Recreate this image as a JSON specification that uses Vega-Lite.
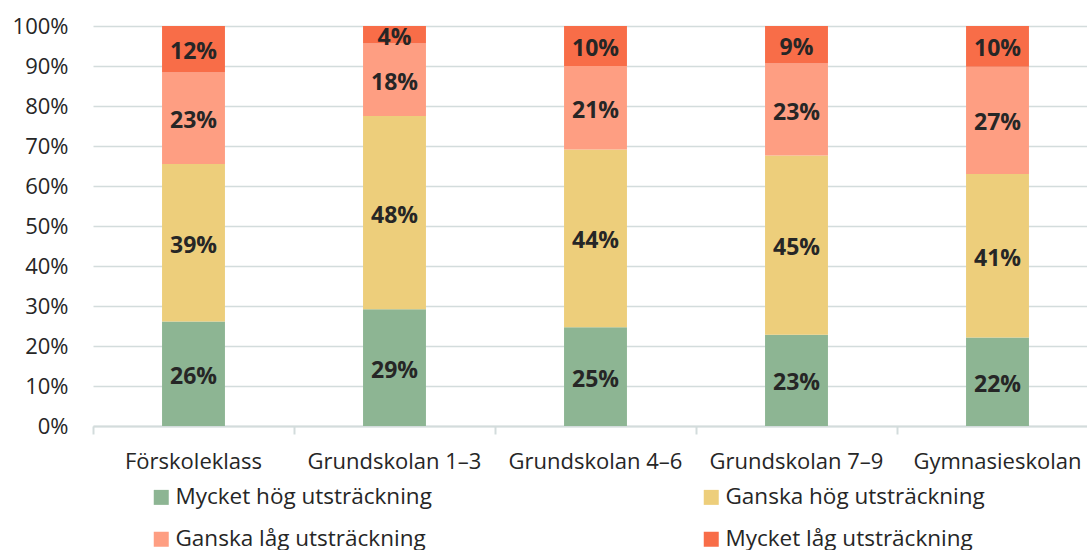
{
  "$schema": "https://vega.github.io/schema/vega-lite/v6.json",
  "autosize": {"type": "none"},
  "width": 1005,
  "height": 400,
  "padding": {"left": 93, "top": 26, "right": 0, "bottom": 124},
  "background": "white",
  "config": {
    "view": {"stroke": null},
    "font": "Open Sans"
  },
  "data": {
    "values": [
      {"skolform": "Förskoleklass", "svar": "Mycket hög utsträckning", "k": 1, "andel": 0.261},
      {"skolform": "Förskoleklass", "svar": "Ganska hög utsträckning", "k": 2, "andel": 0.394},
      {"skolform": "Förskoleklass", "svar": "Ganska låg utsträckning", "k": 3, "andel": 0.229},
      {"skolform": "Förskoleklass", "svar": "Mycket låg utsträckning", "k": 4, "andel": 0.116},
      {"skolform": "Grundskolan 1–3", "svar": "Mycket hög utsträckning", "k": 1, "andel": 0.292},
      {"skolform": "Grundskolan 1–3", "svar": "Ganska hög utsträckning", "k": 2, "andel": 0.483},
      {"skolform": "Grundskolan 1–3", "svar": "Ganska låg utsträckning", "k": 3, "andel": 0.181},
      {"skolform": "Grundskolan 1–3", "svar": "Mycket låg utsträckning", "k": 4, "andel": 0.044},
      {"skolform": "Grundskolan 4–6", "svar": "Mycket hög utsträckning", "k": 1, "andel": 0.247},
      {"skolform": "Grundskolan 4–6", "svar": "Ganska hög utsträckning", "k": 2, "andel": 0.444},
      {"skolform": "Grundskolan 4–6", "svar": "Ganska låg utsträckning", "k": 3, "andel": 0.209},
      {"skolform": "Grundskolan 4–6", "svar": "Mycket låg utsträckning", "k": 4, "andel": 0.100},
      {"skolform": "Grundskolan 7–9", "svar": "Mycket hög utsträckning", "k": 1, "andel": 0.228},
      {"skolform": "Grundskolan 7–9", "svar": "Ganska hög utsträckning", "k": 2, "andel": 0.448},
      {"skolform": "Grundskolan 7–9", "svar": "Ganska låg utsträckning", "k": 3, "andel": 0.230},
      {"skolform": "Grundskolan 7–9", "svar": "Mycket låg utsträckning", "k": 4, "andel": 0.094},
      {"skolform": "Gymnasieskolan", "svar": "Mycket hög utsträckning", "k": 1, "andel": 0.221},
      {"skolform": "Gymnasieskolan", "svar": "Ganska hög utsträckning", "k": 2, "andel": 0.409},
      {"skolform": "Gymnasieskolan", "svar": "Ganska låg utsträckning", "k": 3, "andel": 0.268},
      {"skolform": "Gymnasieskolan", "svar": "Mycket låg utsträckning", "k": 4, "andel": 0.102}
    ]
  },
  "encoding": {
    "x": {
      "field": "skolform",
      "type": "nominal",
      "sort": null,
      "title": null,
      "scale": {"paddingInner": 0, "paddingOuter": 0},
      "axis": {
        "bandPosition": 0,
        "labelAngle": 0,
        "labelFontSize": 22,
        "labelColor": "#262626",
        "labelPadding": 17,
        "tickSize": 8,
        "tickColor": "#d3dcdc",
        "tickWidth": 2,
        "domainColor": "#d3dcdc",
        "domainWidth": 2,
        "grid": false
      }
    },
    "y": {
      "field": "andel",
      "type": "quantitative",
      "stack": "zero",
      "title": null,
      "scale": {"domain": [0, 1], "nice": false},
      "axis": {
        "format": ".0%",
        "values": [0, 0.1, 0.2, 0.3, 0.4, 0.5, 0.6, 0.7, 0.8, 0.9, 1],
        "domain": false,
        "ticks": false,
        "labelPadding": 25,
        "labelFontSize": 22,
        "labelColor": "#262626",
        "gridColor": "#d3dcdc",
        "gridWidth": 1.5
      }
    },
    "order": {"field": "k", "type": "quantitative"}
  },
  "layer": [
    {
      "mark": {"type": "bar", "width": {"band": 0.313}},
      "encoding": {
        "color": {
          "field": "svar",
          "type": "nominal",
          "scale": {
            "domain": ["Mycket hög utsträckning", "Ganska låg utsträckning", "Ganska hög utsträckning", "Mycket låg utsträckning"],
            "range": ["#8db593", "#fe9e82", "#edce7b", "#f86d48"]
          },
          "legend": {
            "title": null,
            "orient": "none",
            "legendX": 57,
            "legendY": 460,
            "columns": 2,
            "columnPadding": 268,
            "rowPadding": 19,
            "symbolType": "square",
            "symbolSize": 225,
            "symbolStrokeWidth": 0,
            "labelFontSize": 22.5,
            "labelColor": "#262626",
            "labelOffset": 3,
            "labelLimit": 400
          }
        }
      }
    },
    {
      "mark": {"type": "text", "fontWeight": "bold", "fontSize": 23, "color": "#262626", "baseline": "middle", "dy": 3},
      "encoding": {
        "y": {"field": "andel", "type": "quantitative", "stack": "zero", "bandPosition": 0.5},
        "text": {"field": "andel", "type": "quantitative", "format": ".0%"}
      }
    }
  ]
}
